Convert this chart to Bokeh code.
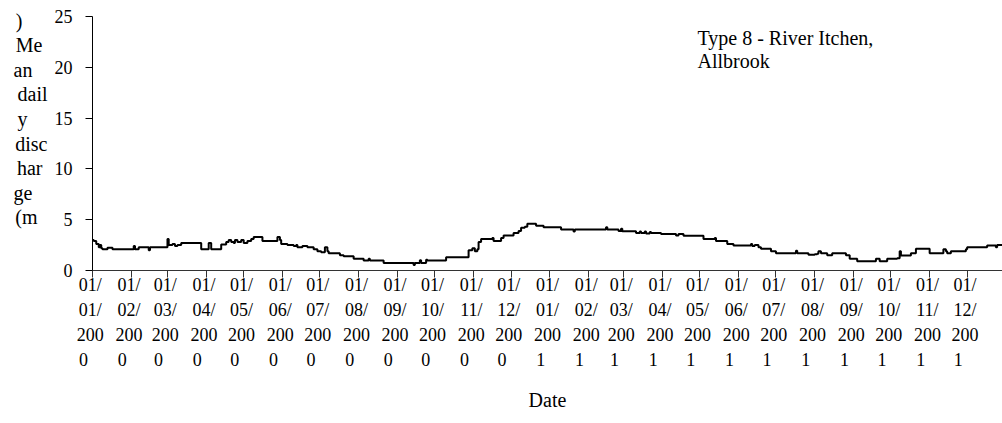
import pandas as pd
from bokeh.plotting import figure
from bokeh.models import FixedTicker, Range1d, Label, ColumnDataSource
from bokeh.embed import file_html
from bokeh.resources import INLINE

# ---------------- data ----------------
dates = [
    "2000-01-01", "2000-01-02", "2000-01-04", "2000-01-06", "2000-01-07", "2000-01-08",
    "2000-01-09", "2000-01-13", "2000-01-17", "2000-02-03", "2000-02-04", "2000-02-07",
    "2000-02-15", "2000-02-16", "2000-03-01", "2000-03-02", "2000-03-05", "2000-03-07",
    "2000-03-09", "2000-03-12", "2000-03-28", "2000-04-03", "2000-04-05", "2000-04-13",
    "2000-04-17", "2000-04-19", "2000-04-21", "2000-04-23", "2000-04-24", "2000-04-26",
    "2000-04-29", "2000-05-01", "2000-05-04", "2000-05-07", "2000-05-09", "2000-05-16",
    "2000-05-28", "2000-05-30", "2000-05-31", "2000-06-05", "2000-06-10", "2000-06-12",
    "2000-06-13", "2000-06-17", "2000-06-21", "2000-06-26", "2000-06-29", "2000-07-02",
    "2000-07-05", "2000-07-07", "2000-07-08", "2000-07-17", "2000-07-20", "2000-07-28",
    "2000-08-05", "2000-08-09", "2000-08-10", "2000-08-21", "2000-09-14", "2000-09-15",
    "2000-09-19", "2000-09-20", "2000-09-24", "2000-09-25", "2000-10-10", "2000-10-28",
    "2000-10-31", "2000-11-02", "2000-11-04", "2000-11-05", "2000-11-07", "2000-11-16",
    "2000-11-17", "2000-11-23", "2000-11-25", "2000-12-03", "2000-12-07", "2000-12-09",
    "2000-12-12", "2000-12-14", "2000-12-21", "2000-12-27", "2001-01-10", "2001-01-20",
    "2001-01-21", "2001-02-15", "2001-02-16", "2001-02-25", "2001-02-27", "2001-02-28",
    "2001-03-11", "2001-03-14", "2001-03-15", "2001-03-18", "2001-03-19", "2001-03-22",
    "2001-03-23", "2001-03-31", "2001-04-12", "2001-04-14", "2001-04-18", "2001-05-04",
    "2001-05-13", "2001-05-14", "2001-05-23", "2001-05-28", "2001-06-11", "2001-06-12",
    "2001-06-14", "2001-06-17", "2001-06-19", "2001-06-27", "2001-07-01", "2001-07-17",
    "2001-07-18", "2001-07-27", "2001-08-01", "2001-08-03", "2001-08-04", "2001-08-06",
    "2001-08-11", "2001-08-15", "2001-08-26", "2001-08-29", "2001-09-04", "2001-09-19",
    "2001-09-22", "2001-09-28", "2001-10-06", "2001-10-08", "2001-10-09", "2001-10-17",
    "2001-10-21", "2001-11-01", "2001-11-12", "2001-11-14", "2001-11-15", "2001-11-18",
    "2001-11-30", "2001-12-01", "2001-12-17", "2001-12-24", "2001-12-25", "2001-12-31",
]
discharge = [
    3.0, 2.9, 2.6, 2.3, 2.5, 2.2,
    2.1, 2.25, 2.1, 2.4, 2.1, 2.3,
    2.0, 2.3, 3.1, 2.5, 2.6, 2.4,
    2.5, 2.7, 2.1, 2.7, 2.1, 2.55,
    2.8, 3.0, 2.8, 2.7, 3.0, 2.8,
    3.0, 2.7, 2.9, 3.1, 3.3, 2.9,
    3.3, 3.0, 2.6, 2.5, 2.4, 2.5,
    2.3, 2.4, 2.3, 2.1, 1.9, 1.8,
    2.3, 1.9, 1.7, 1.5, 1.4, 1.15,
    0.98, 1.15, 0.98, 0.75, 0.55, 0.75,
    1.0, 0.75, 1.05, 0.98, 1.3, 2.0,
    2.2, 1.9, 2.1, 2.8, 3.1, 3.2,
    2.9, 3.2, 3.45, 3.7, 3.9, 4.2,
    4.3, 4.6, 4.4, 4.26, 4.03, 3.85,
    4.03, 4.26, 4.03, 3.9, 4.1, 3.87,
    3.7, 3.85, 3.7, 3.85, 3.65, 3.8,
    3.7, 3.6, 3.45, 3.6, 3.41, 3.1,
    3.2, 2.9, 2.6, 2.45, 2.6, 2.4,
    2.5, 2.3, 2.13, 1.9, 1.7, 1.95,
    1.7, 1.55, 1.6, 1.65, 1.9, 1.7,
    1.5, 1.7, 1.5, 1.15, 0.92, 1.15,
    0.92, 1.15, 1.2, 1.9, 1.48, 1.7,
    2.13, 1.7, 2.1, 1.9, 1.7, 1.9,
    2.1, 2.3, 2.45, 2.3, 2.5, 2.5,
]
tick_dates = [
    "2000-01-01", "2000-02-01", "2000-03-01", "2000-04-01", "2000-05-01", "2000-06-01",
    "2000-07-01", "2000-08-01", "2000-09-01", "2000-10-01", "2000-11-01", "2000-12-01",
    "2001-01-01", "2001-02-01", "2001-03-01", "2001-04-01", "2001-05-01", "2001-06-01",
    "2001-07-01", "2001-08-01", "2001-09-01", "2001-10-01", "2001-11-01", "2001-12-01",
]
tick_labels = [
    "01/01/2000", "01/02/2000", "01/03/2000", "01/04/2000", "01/05/2000", "01/06/2000",
    "01/07/2000", "01/08/2000", "01/09/2000", "01/10/2000", "01/11/2000", "01/12/2000",
    "01/01/2001", "01/02/2001", "01/03/2001", "01/04/2001", "01/05/2001", "01/06/2001",
    "01/07/2001", "01/08/2001", "01/09/2001", "01/10/2001", "01/11/2001", "01/12/2001",
]
y_ticks = [0, 5, 10, 15, 20, 25]
title_lines = ["Type 8 - River Itchen,", "Allbrook"]
# y-axis title as wrapped in the original: "Mean daily discharge (m3 s-1)"
ylabel_lines = [")", "Me", "an", "dail", "y", "disc", "har", "ge", "(m", "", ""]
x_label = "Date"

FONT = "Liberation Serif"
NBSP = "\u00a0"

# trailing non-breaking spaces so the centred lines read as left-aligned
ylabel_pad = [5, 1, 3, 0, 4, 0, 1, 3, 2, 1, 1]
tick_pad = {3: 1, 1: 4}

x = pd.to_datetime(dates)
source = ColumnDataSource(dict(x=x, y=discharge))

x_start = pd.Timestamp("2000-01-01")
x_end = x_start + pd.Timedelta(days=728.3)

p = figure(
    frame_width=910, frame_height=254,
    x_axis_type="datetime",
    x_range=Range1d(x_start.to_pydatetime(), x_end.to_pydatetime()),
    y_range=Range1d(0, 25),
    output_backend="svg", toolbar_location=None,
    min_border_left=92, min_border_right=0, min_border_top=16, min_border_bottom=0,
    background_fill_color="white", border_fill_color="white",
)
p.outline_line_color = None
p.grid.visible = False

p.step("x", "y", source=source, mode="after", line_color="black", line_width=2)

# x axis
tick_ms = [int(pd.Timestamp(d).value // 10**6) for d in tick_dates]


def wrap(lbl):
    parts = [lbl[i:i + 3] for i in range(0, len(lbl), 3)]
    return "\n".join(s + NBSP * tick_pad.get(len(s), 0) for s in parts)


xa = p.xaxis[0]
xa.ticker = FixedTicker(ticks=tick_ms)
xa.major_label_overrides = {ms: wrap(l) for ms, l in zip(tick_ms, tick_labels)}
xa.minor_tick_line_color = None
xa.major_tick_in = 0
xa.major_tick_out = 7
xa.major_label_standoff = -3
xa.major_label_text_font = FONT
xa.major_label_text_font_size = "18px"
xa.major_label_text_line_height = 1.255
xa.major_label_text_color = "black"
xa.axis_line_color = "#333333"
xa.major_tick_line_color = "#333333"
xa.axis_label = x_label
xa.axis_label_text_font = FONT
xa.axis_label_text_font_size = "20px"
xa.axis_label_text_font_style = "normal"
xa.axis_label_text_color = "black"
xa.axis_label_standoff = 16

# y axis
ya = p.yaxis[0]
ya.ticker = FixedTicker(ticks=y_ticks)
ya.minor_tick_line_color = None
ya.major_tick_in = 0
ya.major_tick_out = 7
ya.major_label_standoff = 13
ya.major_label_text_font = FONT
ya.major_label_text_font_size = "18px"
ya.major_label_text_color = "black"
ya.axis_line_color = "black"
ya.major_tick_line_color = "black"
ya.axis_label = "\n".join((s if s else NBSP) + NBSP * n for s, n in zip(ylabel_lines, ylabel_pad))
ya.axis_label_orientation = "horizontal"
ya.axis_label_text_font = FONT
ya.axis_label_text_font_size = "20px"
ya.axis_label_text_font_style = "normal"
ya.axis_label_text_color = "black"
ya.axis_label_text_line_height = 1.115
ya.axis_label_standoff = 4

# chart title text inside the plot area
for i, txt in enumerate(title_lines):
    p.add_layout(Label(x=605, y=233 - i * 23, x_units="screen", y_units="screen",
                       text=txt, text_font=FONT, text_font_size="20px",
                       text_baseline="middle", text_color="black"))

open("out.html", "w").write(file_html(p, INLINE))
